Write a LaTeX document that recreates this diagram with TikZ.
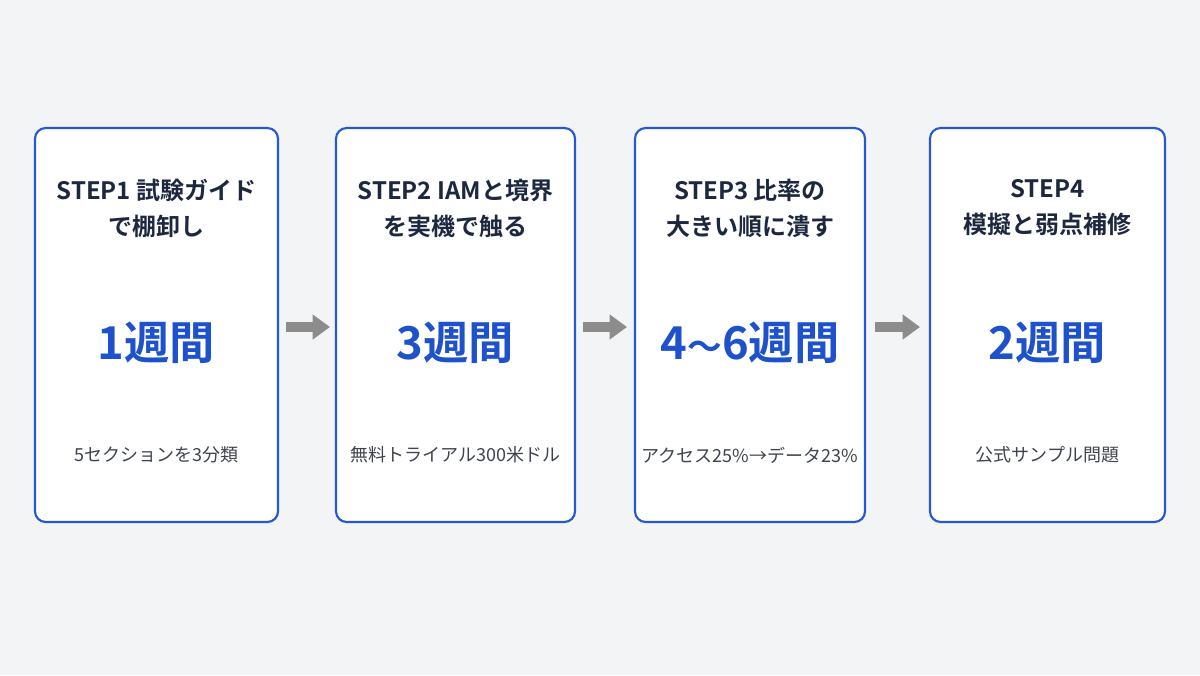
\documentclass[tikz,border=0pt]{standalone}
\usepackage{fontspec}
\usetikzlibrary{arrows.meta}
\setmainfont{Noto Sans CJK JP}
\newfontfamily\jpb{Noto Sans CJK JP Bold}
\definecolor{bg}{HTML}{F3F4F6}
\definecolor{bd}{HTML}{2458D6}
\definecolor{bl}{HTML}{1E52CC}
\definecolor{tt}{HTML}{1D2740}
\definecolor{gy}{HTML}{3E434D}
\definecolor{ar}{HTML}{8C8C8C}
\begin{document}
\begin{tikzpicture}[x=0.75pt,y=-0.75pt,
 box/.style={draw=bd,line width=1.6pt,fill=white,rounded corners=8pt},
 ttl/.style={font=\jpb\fontsize{18}{27}\selectfont,text=tt,align=center},
 big/.style={font=\jpb\fontsize{34}{40}\selectfont,text=bl},
 sub/.style={font=\fontsize{13.5}{16}\selectfont,text=gy},
 arr/.style={draw=ar,line width=7pt,-{Triangle[length=13pt,width=18pt]}}]
\fill[bg] (0,0) rectangle (1200,675);
\useasboundingbox (0,0) rectangle (1200,675);
\foreach \n/\a/\b/\t/\d/\s in {
 1/35/278/{STEP1 試験ガイド\\で棚卸し}/{1週間}/{5セクションを3分類},
 2/336/575/{STEP2 IAMと境界\\を実機で触る}/{3週間}/{無料トライアル300米ドル},
 3/635/865/{STEP3 比率の\\大きい順に潰す}/{4{\fontsize{26}{30}\selectfont\char"301C}6週間}/{アクセス25\%→データ23\%},
 4/930/1165/{STEP4\\模擬と弱点補修}/{2週間}/{公式サンプル問題}}{
 \node[box,minimum width={(\b-\a)*0.75pt},minimum height={394*0.75pt}] (b\n) at ({(\a+\b)/2},325) {};
 \node[ttl] (t\n) at ({(\a+\b)/2},208) {\t};
 \node[big] (d\n) at ({(\a+\b)/2},343) {\d};
 \node[sub] (s\n) at ({(\a+\b)/2},455) {\s};
}
\coordinate (a1) at (286,327); \coordinate (a2) at (330,327);
\coordinate (a3) at (583,327); \coordinate (a4) at (627,327);
\coordinate (a5) at (875,327); \coordinate (a6) at (920,327);
\draw[arr] (a1) -- (a2);
\draw[arr] (a3) -- (a4);
\draw[arr] (a5) -- (a6);
\end{tikzpicture}
\end{document}
